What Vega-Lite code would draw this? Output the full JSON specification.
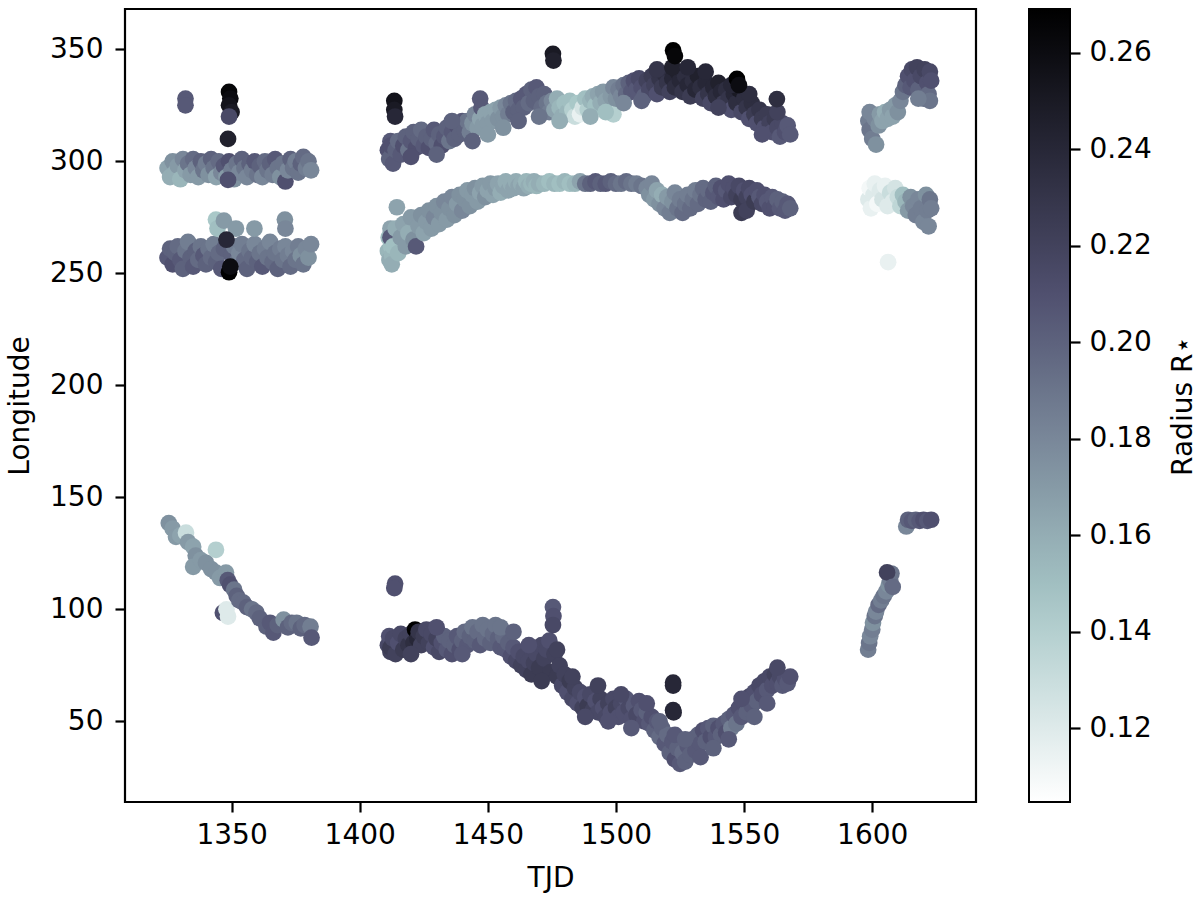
{
"$schema": "https://vega.github.io/schema/vega-lite/v6.json",
"width": 851, "height": 793,
"autosize": {"type": "none"},
"padding": {"left": 125, "top": 9, "right": 224, "bottom": 102},
"background": "white",
"config": {"font": "DejaVu Sans", "view": {"stroke": "black", "strokeWidth": 2.2},
 "axis": {"domain": false, "grid": false, "ticks": true, "tickColor": "black", "tickWidth": 2.2, "tickSize": 10, "labelFontSize": 28, "labelColor": "black", "labelPadding": 10, "titleFontSize": 28, "titleFontWeight": "normal", "titleColor": "black", "titlePadding": 11}},
"data": {"values": [
{"t":1325,"lon":297,"r":0.165},{"t":1326,"lon":293,"r":0.16},{"t":1327,"lon":300,"r":0.175},{"t":1328,"lon":295,"r":0.16},{"t":1329,"lon":298,"r":0.17},{"t":1330,"lon":292,"r":0.155},{"t":1331,"lon":301,"r":0.18},{"t":1332,"lon":296,"r":0.165},{"t":1333,"lon":299,"r":0.19},{"t":1334,"lon":294,"r":0.17},{"t":1335,"lon":301,"r":0.195},{"t":1336,"lon":297,"r":0.18},{"t":1337,"lon":293,"r":0.17},{"t":1338,"lon":300,"r":0.2},{"t":1339,"lon":296,"r":0.19},{"t":1340,"lon":299,"r":0.185},{"t":1341,"lon":294,"r":0.175},{"t":1342,"lon":301,"r":0.2},{"t":1343,"lon":297,"r":0.19},{"t":1344,"lon":293,"r":0.165},{"t":1345,"lon":300,"r":0.195},{"t":1346,"lon":295,"r":0.18},{"t":1347,"lon":298,"r":0.205},{"t":1348,"lon":293,"r":0.17},{"t":1349,"lon":300,"r":0.21},{"t":1350,"lon":296,"r":0.185},{"t":1351,"lon":292,"r":0.175},{"t":1352,"lon":299,"r":0.19},{"t":1353,"lon":295,"r":0.18},{"t":1354,"lon":301,"r":0.2},{"t":1355,"lon":297,"r":0.19},{"t":1356,"lon":293,"r":0.18},{"t":1357,"lon":299,"r":0.2},{"t":1358,"lon":296,"r":0.185},{"t":1359,"lon":300,"r":0.205},{"t":1360,"lon":294,"r":0.19},{"t":1361,"lon":298,"r":0.2},{"t":1362,"lon":293,"r":0.18},{"t":1363,"lon":300,"r":0.195},{"t":1364,"lon":296,"r":0.19},{"t":1365,"lon":299,"r":0.2},{"t":1366,"lon":294,"r":0.185},{"t":1367,"lon":301,"r":0.205},{"t":1368,"lon":297,"r":0.19},{"t":1369,"lon":293,"r":0.175},{"t":1370,"lon":299,"r":0.19},{"t":1371,"lon":291,"r":0.21},{"t":1372,"lon":296,"r":0.18},{"t":1373,"lon":301,"r":0.2},{"t":1374,"lon":297,"r":0.19},{"t":1375,"lon":300,"r":0.185},{"t":1376,"lon":295,"r":0.19},{"t":1377,"lon":299,"r":0.2},{"t":1378,"lon":302,"r":0.195},{"t":1379,"lon":297,"r":0.185},{"t":1380,"lon":300,"r":0.19},{"t":1381,"lon":296,"r":0.18},{"t":1348.6,"lon":291.7,"r":0.21},
{"t":1332,"lon":328,"r":0.205},{"t":1332,"lon":325,"r":0.205},{"t":1349,"lon":331,"r":0.265},{"t":1349.5,"lon":328,"r":0.26},{"t":1349,"lon":325,"r":0.255},{"t":1350,"lon":322,"r":0.25},{"t":1349,"lon":320,"r":0.215},{"t":1348.6,"lon":310,"r":0.245},
{"t":1325,"lon":257,"r":0.205},{"t":1326,"lon":261,"r":0.2},{"t":1327,"lon":254,"r":0.21},{"t":1328,"lon":259,"r":0.2},{"t":1329,"lon":262,"r":0.195},{"t":1330,"lon":256,"r":0.205},{"t":1331,"lon":252,"r":0.2},{"t":1332,"lon":260,"r":0.19},{"t":1333,"lon":264,"r":0.185},{"t":1334,"lon":257,"r":0.2},{"t":1335,"lon":253,"r":0.205},{"t":1336,"lon":260,"r":0.2},{"t":1337,"lon":256,"r":0.195},{"t":1338,"lon":262,"r":0.19},{"t":1339,"lon":258,"r":0.205},{"t":1340,"lon":254,"r":0.2},{"t":1341,"lon":261,"r":0.19},{"t":1342,"lon":257,"r":0.195},{"t":1343,"lon":263,"r":0.185},{"t":1344,"lon":255,"r":0.2},{"t":1345,"lon":259,"r":0.195},{"t":1346,"lon":252,"r":0.205},{"t":1347,"lon":261,"r":0.2},{"t":1350,"lon":258,"r":0.2},{"t":1351,"lon":262,"r":0.185},{"t":1352,"lon":255,"r":0.19},{"t":1353,"lon":259,"r":0.18},{"t":1354,"lon":263,"r":0.185},{"t":1355,"lon":256,"r":0.195},{"t":1356,"lon":252,"r":0.2},{"t":1357,"lon":260,"r":0.19},{"t":1358,"lon":257,"r":0.195},{"t":1359,"lon":263,"r":0.18},{"t":1360,"lon":255,"r":0.2},{"t":1361,"lon":259,"r":0.19},{"t":1362,"lon":253,"r":0.205},{"t":1363,"lon":261,"r":0.185},{"t":1364,"lon":257,"r":0.19},{"t":1365,"lon":264,"r":0.18},{"t":1366,"lon":255,"r":0.195},{"t":1367,"lon":259,"r":0.19},{"t":1368,"lon":252,"r":0.2},{"t":1369,"lon":261,"r":0.185},{"t":1370,"lon":256,"r":0.19},{"t":1371,"lon":262,"r":0.18},{"t":1372,"lon":258,"r":0.185},{"t":1373,"lon":253,"r":0.195},{"t":1374,"lon":260,"r":0.18},{"t":1375,"lon":256,"r":0.19},{"t":1376,"lon":262,"r":0.185},{"t":1377,"lon":258,"r":0.175},{"t":1378,"lon":254,"r":0.19},{"t":1379,"lon":261,"r":0.18},{"t":1380,"lon":257,"r":0.175},{"t":1381,"lon":263,"r":0.18},
{"t":1343.9,"lon":274,"r":0.145},{"t":1344.5,"lon":270,"r":0.15},{"t":1347,"lon":273.5,"r":0.17},{"t":1351.7,"lon":270,"r":0.17},{"t":1358.9,"lon":270,"r":0.17},{"t":1370.8,"lon":274,"r":0.175},{"t":1371,"lon":270,"r":0.18},
{"t":1348,"lon":265,"r":0.24},{"t":1349,"lon":250.5,"r":0.27},{"t":1349.5,"lon":253,"r":0.26},
{"t":1325.5,"lon":138.5,"r":0.175},{"t":1327,"lon":136,"r":0.17},{"t":1328.3,"lon":132.4,"r":0.17},{"t":1330,"lon":133,"r":0.165},{"t":1332.2,"lon":134.2,"r":0.13},{"t":1333,"lon":130,"r":0.17},{"t":1335,"lon":128,"r":0.165},{"t":1336,"lon":124,"r":0.175},{"t":1335,"lon":119,"r":0.17},{"t":1338,"lon":122,"r":0.17},{"t":1340,"lon":120.8,"r":0.175},{"t":1342,"lon":118,"r":0.175},{"t":1343.9,"lon":126.6,"r":0.14},{"t":1343.9,"lon":116.4,"r":0.175},{"t":1345.5,"lon":114,"r":0.17},{"t":1347.8,"lon":116.4,"r":0.17},{"t":1348.5,"lon":113,"r":0.205},{"t":1349.4,"lon":111,"r":0.21},{"t":1351,"lon":108.8,"r":0.19},{"t":1352,"lon":106,"r":0.2},{"t":1346.6,"lon":98.5,"r":0.21},{"t":1348.6,"lon":96.8,"r":0.12},{"t":1348,"lon":100,"r":0.12},{"t":1353,"lon":104,"r":0.195},{"t":1354.6,"lon":103,"r":0.195},{"t":1356,"lon":101,"r":0.2},{"t":1358,"lon":100,"r":0.19},{"t":1359.7,"lon":98.5,"r":0.195},{"t":1361,"lon":96,"r":0.2},{"t":1363.6,"lon":92.3,"r":0.2},{"t":1365,"lon":94,"r":0.205},{"t":1366.3,"lon":89.6,"r":0.205},{"t":1368,"lon":93,"r":0.2},{"t":1370.3,"lon":95.4,"r":0.175},{"t":1372,"lon":92,"r":0.2},{"t":1373.5,"lon":94,"r":0.195},{"t":1375.4,"lon":94,"r":0.19},{"t":1377,"lon":91.5,"r":0.2},{"t":1378.5,"lon":93,"r":0.195},{"t":1380.8,"lon":92.3,"r":0.185},{"t":1381.2,"lon":87.4,"r":0.205},
{"t":1411,"lon":305,"r":0.21},{"t":1411.5,"lon":301,"r":0.2},{"t":1412,"lon":309,"r":0.205},{"t":1412.5,"lon":303,"r":0.2},{"t":1412,"lon":307,"r":0.21},{"t":1413,"lon":299,"r":0.205},{"t":1414,"lon":305,"r":0.2},{"t":1415,"lon":309,"r":0.195},{"t":1416,"lon":303,"r":0.205},{"t":1417,"lon":307,"r":0.21},{"t":1418,"lon":311,"r":0.2},{"t":1419,"lon":305,"r":0.19},{"t":1420,"lon":309,"r":0.205},{"t":1421,"lon":313,"r":0.2},{"t":1422,"lon":306,"r":0.21},{"t":1423,"lon":310,"r":0.2},{"t":1424,"lon":314,"r":0.195},{"t":1425,"lon":307,"r":0.205},{"t":1426,"lon":311,"r":0.2},{"t":1427,"lon":306,"r":0.21},{"t":1428,"lon":310,"r":0.2},{"t":1429,"lon":314,"r":0.205},{"t":1430,"lon":308,"r":0.195},{"t":1431,"lon":312,"r":0.2},{"t":1432,"lon":307,"r":0.21},{"t":1433,"lon":311,"r":0.205},{"t":1434,"lon":315,"r":0.2},{"t":1435,"lon":309,"r":0.19},{"t":1436,"lon":313,"r":0.205},{"t":1437,"lon":310,"r":0.2},{"t":1438,"lon":316,"r":0.21},{"t":1439,"lon":312,"r":0.2},{"t":1440,"lon":318,"r":0.205},{"t":1441,"lon":314,"r":0.2},{"t":1442,"lon":318,"r":0.19},{"t":1443,"lon":313,"r":0.185},{"t":1444,"lon":317,"r":0.175},{"t":1445,"lon":321,"r":0.18},{"t":1446,"lon":315,"r":0.17},{"t":1447,"lon":319,"r":0.165},{"t":1447,"lon":328,"r":0.205},{"t":1447.5,"lon":324,"r":0.205},{"t":1448,"lon":316,"r":0.17},{"t":1449,"lon":321,"r":0.165},{"t":1450,"lon":317,"r":0.17},{"t":1451,"lon":322,"r":0.165},{"t":1452,"lon":318,"r":0.17},{"t":1453,"lon":323,"r":0.165},{"t":1454,"lon":319,"r":0.175},{"t":1455,"lon":324,"r":0.17},{"t":1456,"lon":320,"r":0.175},{"t":1457,"lon":325,"r":0.18},{"t":1458,"lon":321,"r":0.185},{"t":1459,"lon":326,"r":0.19},{"t":1460,"lon":322,"r":0.2},{"t":1461,"lon":327,"r":0.195},{"t":1462,"lon":323,"r":0.2},{"t":1463,"lon":328,"r":0.205},{"t":1464,"lon":324,"r":0.2},{"t":1465,"lon":330,"r":0.205},{"t":1466,"lon":326,"r":0.195},{"t":1467,"lon":332,"r":0.2},{"t":1468,"lon":327,"r":0.2},{"t":1469,"lon":333,"r":0.205},{"t":1470,"lon":329,"r":0.2},{"t":1471,"lon":324,"r":0.195},{"t":1472,"lon":330,"r":0.2},{"t":1473,"lon":326,"r":0.19},{"t":1474,"lon":322,"r":0.185},{"t":1475,"lon":327,"r":0.18},{"t":1476,"lon":323,"r":0.165},{"t":1477,"lon":328,"r":0.16},{"t":1478,"lon":324,"r":0.155},{"t":1479,"lon":320,"r":0.16},{"t":1480,"lon":326,"r":0.15},{"t":1481,"lon":322,"r":0.155},{"t":1482,"lon":327,"r":0.15},{"t":1483,"lon":323,"r":0.14},{"t":1484,"lon":320,"r":0.13},{"t":1485,"lon":326,"r":0.145},{"t":1486,"lon":321,"r":0.115},{"t":1487,"lon":324,"r":0.125},{"t":1488,"lon":328,"r":0.15},{"t":1489,"lon":323,"r":0.14},{"t":1490,"lon":327,"r":0.155},{"t":1491,"lon":329,"r":0.16},{"t":1492,"lon":325,"r":0.15},{"t":1493,"lon":330,"r":0.165},{"t":1494,"lon":326,"r":0.16},{"t":1495,"lon":331,"r":0.17},{"t":1496,"lon":327,"r":0.165},{"t":1499,"lon":321,"r":0.14},{"t":1498,"lon":329,"r":0.17},{"t":1499,"lon":333,"r":0.18},{"t":1500,"lon":328,"r":0.175},{"t":1501,"lon":332,"r":0.185},{"t":1502,"lon":329,"r":0.18},{"t":1503,"lon":334,"r":0.19},{"t":1504,"lon":330,"r":0.195},{"t":1505,"lon":335,"r":0.2},{"t":1506,"lon":331,"r":0.205},{"t":1507,"lon":336,"r":0.21},{"t":1508,"lon":332,"r":0.205},{"t":1509,"lon":337,"r":0.215},{"t":1510,"lon":333,"r":0.21},{"t":1511,"lon":329,"r":0.2},{"t":1512,"lon":336,"r":0.22},{"t":1513,"lon":332,"r":0.215},{"t":1514,"lon":338,"r":0.225},{"t":1515,"lon":334,"r":0.22},{"t":1516,"lon":330,"r":0.21},{"t":1517,"lon":337,"r":0.23},{"t":1518,"lon":333,"r":0.225},{"t":1519,"lon":339,"r":0.235},{"t":1520,"lon":335,"r":0.23},{"t":1521,"lon":331,"r":0.22},{"t":1522,"lon":337,"r":0.24},{"t":1523,"lon":333,"r":0.235},{"t":1524,"lon":340,"r":0.245},{"t":1525,"lon":336,"r":0.24},{"t":1526,"lon":331,"r":0.23},{"t":1527,"lon":338,"r":0.235},{"t":1528,"lon":334,"r":0.24},{"t":1529,"lon":329,"r":0.225},{"t":1530,"lon":336,"r":0.235},{"t":1531,"lon":332,"r":0.24},{"t":1532,"lon":338,"r":0.245},{"t":1533,"lon":333,"r":0.235},{"t":1534,"lon":328,"r":0.22},{"t":1535,"lon":335,"r":0.24},{"t":1536,"lon":330,"r":0.23},{"t":1537,"lon":326,"r":0.215},{"t":1538,"lon":333,"r":0.24},{"t":1539,"lon":329,"r":0.235},{"t":1540,"lon":335,"r":0.245},{"t":1541,"lon":331,"r":0.24},{"t":1542,"lon":326,"r":0.225},{"t":1543,"lon":332,"r":0.235},{"t":1544,"lon":328,"r":0.23},{"t":1545,"lon":323,"r":0.21},{"t":1546,"lon":330,"r":0.24},{"t":1547,"lon":326,"r":0.235},{"t":1548,"lon":332,"r":0.25},{"t":1549,"lon":322,"r":0.215},{"t":1550,"lon":328,"r":0.235},{"t":1551,"lon":324,"r":0.23},{"t":1552,"lon":319,"r":0.21},{"t":1553,"lon":326,"r":0.235},{"t":1554,"lon":321,"r":0.225},{"t":1555,"lon":317,"r":0.21},{"t":1556,"lon":323,"r":0.23},{"t":1557,"lon":319,"r":0.225},{"t":1558,"lon":315,"r":0.21},{"t":1559,"lon":321,"r":0.225},{"t":1560,"lon":317,"r":0.22},{"t":1561,"lon":313,"r":0.21},{"t":1562,"lon":319,"r":0.225},{"t":1563,"lon":315,"r":0.215},{"t":1564,"lon":311,"r":0.205},{"t":1565,"lon":317,"r":0.215},{"t":1566,"lon":313,"r":0.21},{"t":1567,"lon":316,"r":0.205},{"t":1568,"lon":312,"r":0.205},
{"t":1420,"lon":302,"r":0.21},{"t":1430,"lon":303,"r":0.2},{"t":1436,"lon":318,"r":0.2},{"t":1444,"lon":309,"r":0.2},{"t":1450,"lon":312,"r":0.17},{"t":1456,"lon":315,"r":0.175},{"t":1462,"lon":318,"r":0.2},{"t":1470,"lon":320,"r":0.19},{"t":1478,"lon":318,"r":0.16},{"t":1490,"lon":320,"r":0.16},{"t":1496,"lon":322,"r":0.15},{"t":1503,"lon":326,"r":0.18},{"t":1510,"lon":327,"r":0.2},{"t":1516,"lon":341,"r":0.23},{"t":1522,"lon":342,"r":0.245},{"t":1528,"lon":342,"r":0.24},{"t":1535,"lon":340,"r":0.24},{"t":1540,"lon":324,"r":0.22},{"t":1545,"lon":334,"r":0.24},{"t":1552,"lon":330,"r":0.235},{"t":1557,"lon":312,"r":0.21},{"t":1563,"lon":322,"r":0.22},
{"t":1413.5,"lon":327,"r":0.255},{"t":1413.5,"lon":323,"r":0.25},{"t":1413.8,"lon":320,"r":0.24},{"t":1475.4,"lon":348,"r":0.25},{"t":1475.6,"lon":345,"r":0.245},{"t":1522.3,"lon":349.5,"r":0.27},{"t":1523,"lon":347,"r":0.265},{"t":1547.2,"lon":336.8,"r":0.27},{"t":1548,"lon":334,"r":0.26},{"t":1562.8,"lon":327.8,"r":0.235},
{"t":1411,"lon":260,"r":0.155},{"t":1411.3,"lon":266,"r":0.15},{"t":1411.6,"lon":256,"r":0.16},{"t":1412,"lon":270,"r":0.165},{"t":1412.3,"lon":262,"r":0.15},{"t":1412.6,"lon":258,"r":0.155},{"t":1412,"lon":266,"r":0.205},{"t":1412.5,"lon":254,"r":0.16},{"t":1413,"lon":262,"r":0.15},{"t":1414,"lon":270,"r":0.16},{"t":1414.5,"lon":279.5,"r":0.165},{"t":1415,"lon":259,"r":0.155},{"t":1416,"lon":266,"r":0.17},{"t":1417,"lon":272,"r":0.165},{"t":1418,"lon":262,"r":0.17},{"t":1419,"lon":268,"r":0.16},{"t":1420,"lon":275,"r":0.17},{"t":1421,"lon":265,"r":0.175},{"t":1422,"lon":262,"r":0.205},{"t":1423,"lon":271,"r":0.17},{"t":1424,"lon":276,"r":0.175},{"t":1425,"lon":268,"r":0.165},{"t":1426,"lon":273,"r":0.17},{"t":1427,"lon":278,"r":0.175},{"t":1428,"lon":270,"r":0.17},{"t":1429,"lon":275,"r":0.18},{"t":1430,"lon":280,"r":0.175},{"t":1431,"lon":272,"r":0.17},{"t":1432,"lon":277,"r":0.175},{"t":1433,"lon":282,"r":0.18},{"t":1434,"lon":274,"r":0.17},{"t":1435,"lon":279,"r":0.175},{"t":1436,"lon":284,"r":0.18},{"t":1437,"lon":276,"r":0.175},{"t":1438,"lon":281,"r":0.17},{"t":1439,"lon":285,"r":0.175},{"t":1440,"lon":278,"r":0.18},{"t":1441,"lon":283,"r":0.175},{"t":1442,"lon":287,"r":0.17},{"t":1443,"lon":280,"r":0.175},{"t":1444,"lon":285,"r":0.17},{"t":1445,"lon":288,"r":0.175},{"t":1446,"lon":282,"r":0.17},{"t":1447,"lon":286,"r":0.165},{"t":1448,"lon":289,"r":0.17},{"t":1449,"lon":284,"r":0.175},{"t":1450,"lon":287,"r":0.165},{"t":1451,"lon":290,"r":0.17},{"t":1452,"lon":285,"r":0.165},{"t":1453,"lon":288,"r":0.17},{"t":1454,"lon":290,"r":0.165},{"t":1455,"lon":286,"r":0.16},{"t":1456,"lon":289,"r":0.165},{"t":1457,"lon":291,"r":0.16},{"t":1458,"lon":287,"r":0.165},{"t":1459,"lon":290,"r":0.16},{"t":1460,"lon":288,"r":0.165},{"t":1461,"lon":291,"r":0.16},{"t":1462,"lon":289,"r":0.165},{"t":1463,"lon":290,"r":0.16},{"t":1464,"lon":288,"r":0.165},{"t":1465,"lon":291,"r":0.155},{"t":1466,"lon":289,"r":0.16},{"t":1467,"lon":290,"r":0.155},{"t":1468,"lon":291,"r":0.16},{"t":1469,"lon":289,"r":0.155},{"t":1470,"lon":290,"r":0.16},{"t":1472,"lon":290,"r":0.155},{"t":1474,"lon":291,"r":0.15},{"t":1476,"lon":290,"r":0.155},{"t":1478,"lon":290,"r":0.15},{"t":1480,"lon":291,"r":0.155},{"t":1482,"lon":290,"r":0.15},{"t":1484,"lon":290,"r":0.155},{"t":1486,"lon":291,"r":0.165},{"t":1488,"lon":290,"r":0.19},{"t":1490,"lon":290,"r":0.2},{"t":1492,"lon":291,"r":0.205},{"t":1494,"lon":290,"r":0.2},{"t":1496,"lon":290,"r":0.205},{"t":1498,"lon":291,"r":0.2},{"t":1500,"lon":290,"r":0.195},{"t":1502,"lon":290,"r":0.19},{"t":1504,"lon":291,"r":0.195},{"t":1506,"lon":290,"r":0.19},{"t":1508,"lon":290,"r":0.185},{"t":1510,"lon":289,"r":0.19},{"t":1512,"lon":288,"r":0.18},{"t":1513,"lon":285,"r":0.175},{"t":1514,"lon":290,"r":0.18},{"t":1515,"lon":283,"r":0.17},{"t":1516,"lon":287,"r":0.165},{"t":1517,"lon":281,"r":0.175},{"t":1518,"lon":285,"r":0.16},{"t":1519,"lon":279,"r":0.18},{"t":1520,"lon":284,"r":0.17},{"t":1521,"lon":277,"r":0.185},{"t":1522,"lon":282,"r":0.175},{"t":1523,"lon":286,"r":0.18},{"t":1524,"lon":279,"r":0.19},{"t":1525,"lon":283,"r":0.185},{"t":1526,"lon":277,"r":0.195},{"t":1527,"lon":281,"r":0.19},{"t":1528,"lon":285,"r":0.185},{"t":1529,"lon":279,"r":0.195},{"t":1530,"lon":283,"r":0.19},{"t":1531,"lon":287,"r":0.185},{"t":1532,"lon":281,"r":0.195},{"t":1533,"lon":285,"r":0.19},{"t":1534,"lon":288,"r":0.195},{"t":1535,"lon":283,"r":0.2},{"t":1536,"lon":287,"r":0.195},{"t":1537,"lon":282,"r":0.2},{"t":1538,"lon":286,"r":0.205},{"t":1539,"lon":289,"r":0.2},{"t":1540,"lon":284,"r":0.205},{"t":1541,"lon":288,"r":0.21},{"t":1542,"lon":283,"r":0.21},{"t":1543,"lon":287,"r":0.205},{"t":1544,"lon":290,"r":0.21},{"t":1545,"lon":284,"r":0.215},{"t":1546,"lon":288,"r":0.21},{"t":1547,"lon":285,"r":0.22},{"t":1548,"lon":289,"r":0.215},{"t":1549,"lon":283,"r":0.225},{"t":1549,"lon":277,"r":0.225},{"t":1550,"lon":287,"r":0.21},{"t":1551,"lon":284,"r":0.22},{"t":1551,"lon":278,"r":0.22},{"t":1552,"lon":288,"r":0.215},{"t":1553,"lon":285,"r":0.21},{"t":1554,"lon":282,"r":0.225},{"t":1555,"lon":287,"r":0.21},{"t":1556,"lon":284,"r":0.205},{"t":1557,"lon":281,"r":0.215},{"t":1558,"lon":285,"r":0.21},{"t":1559,"lon":282,"r":0.205},{"t":1560,"lon":279,"r":0.21},{"t":1561,"lon":284,"r":0.205},{"t":1562,"lon":280,"r":0.21},{"t":1563,"lon":283,"r":0.2},{"t":1564,"lon":279,"r":0.205},{"t":1565,"lon":282,"r":0.2},{"t":1566,"lon":278,"r":0.205},{"t":1567,"lon":281,"r":0.205},{"t":1568,"lon":279,"r":0.2},
{"t":1411,"lon":84,"r":0.215},{"t":1411.5,"lon":88,"r":0.21},{"t":1412,"lon":81,"r":0.22},{"t":1412.3,"lon":86,"r":0.21},{"t":1412,"lon":83,"r":0.225},{"t":1413,"lon":87,"r":0.215},{"t":1414,"lon":80,"r":0.22},{"t":1415,"lon":85,"r":0.21},{"t":1416,"lon":89,"r":0.215},{"t":1417,"lon":82,"r":0.225},{"t":1418,"lon":87,"r":0.22},{"t":1419,"lon":84,"r":0.23},{"t":1420,"lon":89,"r":0.22},{"t":1421,"lon":85,"r":0.235},{"t":1421.6,"lon":91,"r":0.27},{"t":1422.5,"lon":87,"r":0.24},{"t":1423,"lon":90,"r":0.23},{"t":1424,"lon":84,"r":0.22},{"t":1425,"lon":88,"r":0.225},{"t":1426,"lon":91,"r":0.215},{"t":1427,"lon":85,"r":0.22},{"t":1428,"lon":89,"r":0.215},{"t":1429,"lon":83,"r":0.21},{"t":1430,"lon":87,"r":0.22},{"t":1431,"lon":81,"r":0.215},{"t":1432,"lon":85,"r":0.21},{"t":1433,"lon":88,"r":0.2},{"t":1434,"lon":82,"r":0.205},{"t":1435,"lon":86,"r":0.2},{"t":1436,"lon":80,"r":0.21},{"t":1437,"lon":84,"r":0.2},{"t":1438,"lon":88,"r":0.205},{"t":1439,"lon":82,"r":0.21},{"t":1440,"lon":86,"r":0.2},{"t":1441,"lon":90,"r":0.195},{"t":1442,"lon":84,"r":0.205},{"t":1443,"lon":88,"r":0.2},{"t":1444,"lon":92,"r":0.19},{"t":1445,"lon":86,"r":0.2},{"t":1446,"lon":90,"r":0.195},{"t":1447,"lon":84,"r":0.205},{"t":1448,"lon":93,"r":0.19},{"t":1449,"lon":87,"r":0.195},{"t":1450,"lon":91,"r":0.19},{"t":1451,"lon":85,"r":0.2},{"t":1452,"lon":89,"r":0.195},{"t":1453,"lon":93,"r":0.19},{"t":1454,"lon":87,"r":0.2},{"t":1455,"lon":83,"r":0.205},{"t":1456,"lon":88,"r":0.195},{"t":1457,"lon":82,"r":0.205},{"t":1458,"lon":85,"r":0.2},{"t":1459,"lon":79,"r":0.21},{"t":1460,"lon":83,"r":0.205},{"t":1461,"lon":77,"r":0.215},{"t":1462,"lon":81,"r":0.21},{"t":1463,"lon":75,"r":0.22},{"t":1464,"lon":79,"r":0.215},{"t":1465,"lon":73,"r":0.22},{"t":1466,"lon":77,"r":0.215},{"t":1467,"lon":71,"r":0.225},{"t":1468,"lon":76,"r":0.22},{"t":1469,"lon":80,"r":0.215},{"t":1470,"lon":74,"r":0.225},{"t":1471,"lon":84,"r":0.215},{"t":1472,"lon":78,"r":0.22},{"t":1473,"lon":82,"r":0.215},{"t":1474,"lon":86,"r":0.21},{"t":1474.5,"lon":72,"r":0.225},{"t":1475.4,"lon":101,"r":0.205},{"t":1475.6,"lon":97,"r":0.21},{"t":1475.4,"lon":93,"r":0.215},{"t":1476,"lon":80,"r":0.22},{"t":1477,"lon":70,"r":0.225},{"t":1478,"lon":75,"r":0.22},{"t":1479,"lon":66,"r":0.215},{"t":1480,"lon":71,"r":0.22},{"t":1481,"lon":63,"r":0.21},{"t":1482,"lon":68,"r":0.225},{"t":1483,"lon":60,"r":0.215},{"t":1484,"lon":65,"r":0.22},{"t":1485,"lon":58,"r":0.21},{"t":1486,"lon":63,"r":0.215},{"t":1487,"lon":56,"r":0.22},{"t":1488,"lon":61,"r":0.21},{"t":1489,"lon":57,"r":0.225},{"t":1490,"lon":62,"r":0.215},{"t":1491,"lon":55,"r":0.22},{"t":1492,"lon":59,"r":0.21},{"t":1493,"lon":54,"r":0.215},{"t":1494,"lon":60,"r":0.22},{"t":1495,"lon":56,"r":0.21},{"t":1496,"lon":52,"r":0.215},{"t":1497,"lon":58,"r":0.22},{"t":1498,"lon":54,"r":0.21},{"t":1499,"lon":60,"r":0.215},{"t":1500,"lon":56,"r":0.22},{"t":1501,"lon":52,"r":0.21},{"t":1502,"lon":58,"r":0.215},{"t":1503,"lon":54,"r":0.21},{"t":1504,"lon":60,"r":0.205},{"t":1505,"lon":56,"r":0.215},{"t":1506,"lon":51,"r":0.21},{"t":1507,"lon":57,"r":0.205},{"t":1508,"lon":53,"r":0.215},{"t":1509,"lon":59,"r":0.21},{"t":1510,"lon":55,"r":0.205},{"t":1511,"lon":50,"r":0.21},{"t":1512,"lon":54,"r":0.2},{"t":1513,"lon":49,"r":0.205},{"t":1514,"lon":52,"r":0.21},{"t":1515,"lon":46,"r":0.2},{"t":1516,"lon":50,"r":0.205},{"t":1517,"lon":43,"r":0.195},{"t":1518,"lon":47,"r":0.2},{"t":1519,"lon":40,"r":0.205},{"t":1520,"lon":44,"r":0.195},{"t":1521,"lon":36,"r":0.2},{"t":1522,"lon":41,"r":0.205},{"t":1523,"lon":33,"r":0.21},{"t":1524,"lon":38,"r":0.2},{"t":1525,"lon":31,"r":0.205},{"t":1526,"lon":36,"r":0.195},{"t":1527,"lon":32,"r":0.2},{"t":1528,"lon":39,"r":0.205},{"t":1529,"lon":35,"r":0.2},{"t":1530,"lon":42,"r":0.21},{"t":1531,"lon":37,"r":0.205},{"t":1532,"lon":44,"r":0.2},{"t":1533,"lon":40,"r":0.205},{"t":1534,"lon":46,"r":0.21},{"t":1535,"lon":41,"r":0.2},{"t":1536,"lon":47,"r":0.205},{"t":1537,"lon":43,"r":0.21},{"t":1538,"lon":48,"r":0.2},{"t":1539,"lon":43,"r":0.205},{"t":1540,"lon":47,"r":0.21},{"t":1541,"lon":44,"r":0.2},{"t":1542,"lon":49,"r":0.205},{"t":1543,"lon":45,"r":0.21},{"t":1544,"lon":51,"r":0.2},{"t":1545,"lon":47,"r":0.185},{"t":1546,"lon":53,"r":0.205},{"t":1547,"lon":49,"r":0.19},{"t":1548,"lon":56,"r":0.21},{"t":1549,"lon":52,"r":0.205},{"t":1550,"lon":58,"r":0.21},{"t":1551,"lon":54,"r":0.2},{"t":1552,"lon":61,"r":0.215},{"t":1553,"lon":57,"r":0.205},{"t":1554,"lon":63,"r":0.21},{"t":1555,"lon":59,"r":0.2},{"t":1556,"lon":66,"r":0.215},{"t":1557,"lon":62,"r":0.21},{"t":1558,"lon":68,"r":0.215},{"t":1559,"lon":64,"r":0.205},{"t":1560,"lon":70,"r":0.215},{"t":1561,"lon":66,"r":0.21},{"t":1562,"lon":71,"r":0.22},{"t":1563,"lon":67,"r":0.21},{"t":1564,"lon":70,"r":0.215},{"t":1565,"lon":66,"r":0.205},{"t":1566,"lon":69,"r":0.21},{"t":1567,"lon":67,"r":0.205},{"t":1568,"lon":70,"r":0.21},
{"t":1420,"lon":80,"r":0.22},{"t":1430,"lon":92,"r":0.21},{"t":1440,"lon":80,"r":0.205},{"t":1455,"lon":92,"r":0.19},{"t":1460,"lon":90,"r":0.2},{"t":1466,"lon":84,"r":0.21},{"t":1471,"lon":68,"r":0.225},{"t":1477,"lon":82,"r":0.22},{"t":1483,"lon":70,"r":0.22},{"t":1488,"lon":52,"r":0.215},{"t":1493,"lon":66,"r":0.22},{"t":1497,"lon":50,"r":0.21},{"t":1502,"lon":62,"r":0.215},{"t":1506,"lon":47,"r":0.205},{"t":1512,"lon":58,"r":0.21},{"t":1517,"lon":50,"r":0.2},{"t":1523,"lon":44,"r":0.205},{"t":1527,"lon":42,"r":0.2},{"t":1533,"lon":34,"r":0.205},{"t":1538,"lon":38,"r":0.2},{"t":1544,"lon":42,"r":0.205},{"t":1549,"lon":60,"r":0.21},{"t":1554,"lon":52,"r":0.2},{"t":1559,"lon":58,"r":0.205},{"t":1563,"lon":74,"r":0.215},
{"t":1413.8,"lon":111.5,"r":0.21},{"t":1413.5,"lon":109.5,"r":0.21},{"t":1522.3,"lon":67.3,"r":0.24},{"t":1522.3,"lon":66,"r":0.24},{"t":1522.3,"lon":55,"r":0.24},{"t":1522.5,"lon":54,"r":0.24},
{"t":1598.5,"lon":318,"r":0.185},{"t":1599,"lon":322,"r":0.18},{"t":1599,"lon":314,"r":0.19},{"t":1600,"lon":310,"r":0.185},{"t":1601.5,"lon":307.5,"r":0.175},{"t":1601,"lon":319,"r":0.18},{"t":1602.5,"lon":316,"r":0.175},{"t":1603,"lon":321,"r":0.17},{"t":1604,"lon":318,"r":0.165},{"t":1605,"lon":322,"r":0.16},{"t":1606,"lon":319,"r":0.165},{"t":1607,"lon":323,"r":0.17},{"t":1608,"lon":320,"r":0.165},{"t":1609,"lon":325,"r":0.17},{"t":1610,"lon":322,"r":0.175},{"t":1611,"lon":327,"r":0.18},{"t":1612,"lon":331,"r":0.19},{"t":1613,"lon":334,"r":0.2},{"t":1614,"lon":338,"r":0.21},{"t":1615,"lon":333,"r":0.205},{"t":1615.5,"lon":341,"r":0.215},{"t":1616.5,"lon":336,"r":0.21},{"t":1617.5,"lon":342,"r":0.22},{"t":1618,"lon":332,"r":0.2},{"t":1619,"lon":338,"r":0.215},{"t":1620,"lon":328,"r":0.19},{"t":1620.5,"lon":341,"r":0.22},{"t":1621.5,"lon":335,"r":0.21},{"t":1622,"lon":330,"r":0.195},{"t":1622.5,"lon":340,"r":0.215},{"t":1623,"lon":336,"r":0.21},{"t":1622.5,"lon":327,"r":0.19},{"t":1618,"lon":328,"r":0.185},
{"t":1598.5,"lon":283,"r":0.12},{"t":1599,"lon":288,"r":0.11},{"t":1599.5,"lon":279,"r":0.115},{"t":1600.5,"lon":285,"r":0.12},{"t":1601,"lon":290,"r":0.115},{"t":1602,"lon":281,"r":0.11},{"t":1603,"lon":287,"r":0.12},{"t":1604,"lon":283,"r":0.125},{"t":1605,"lon":289,"r":0.115},{"t":1606,"lon":280,"r":0.12},{"t":1607,"lon":286,"r":0.13},{"t":1608,"lon":282,"r":0.12},{"t":1609,"lon":288,"r":0.125},{"t":1610,"lon":284,"r":0.13},{"t":1611,"lon":280,"r":0.135},{"t":1612,"lon":285,"r":0.15},{"t":1613,"lon":282,"r":0.155},{"t":1614,"lon":278,"r":0.17},{"t":1615,"lon":284,"r":0.175},{"t":1616,"lon":280,"r":0.18},{"t":1617,"lon":276,"r":0.185},{"t":1618,"lon":283,"r":0.18},{"t":1619,"lon":279,"r":0.185},{"t":1620,"lon":273,"r":0.18},{"t":1621,"lon":285,"r":0.175},{"t":1621.5,"lon":278,"r":0.185},{"t":1622,"lon":271,"r":0.18},{"t":1622.5,"lon":283,"r":0.19},{"t":1623,"lon":279,"r":0.185},{"t":1606.2,"lon":255,"r":0.115},
{"t":1598.4,"lon":82,"r":0.185},{"t":1598.8,"lon":85,"r":0.19},{"t":1599.2,"lon":88,"r":0.18},{"t":1600,"lon":91,"r":0.185},{"t":1600.3,"lon":94,"r":0.175},{"t":1601,"lon":97,"r":0.19},{"t":1601.5,"lon":99,"r":0.18},{"t":1602.5,"lon":102,"r":0.195},{"t":1603.5,"lon":104,"r":0.185},{"t":1604.5,"lon":106,"r":0.19},{"t":1605.5,"lon":108,"r":0.18},{"t":1606.5,"lon":111,"r":0.175},{"t":1607,"lon":113,"r":0.185},{"t":1607.5,"lon":116,"r":0.19},{"t":1605.8,"lon":116.5,"r":0.22},{"t":1608,"lon":110,"r":0.195},
{"t":1613.3,"lon":137,"r":0.18},{"t":1614,"lon":140,"r":0.2},{"t":1615.5,"lon":139.5,"r":0.205},{"t":1617,"lon":140,"r":0.2},{"t":1618.5,"lon":139.5,"r":0.205},{"t":1620,"lon":140,"r":0.21},{"t":1621.5,"lon":139.5,"r":0.205},{"t":1623,"lon":140,"r":0.21}
]},
"layer": [
 {"mark": {"type": "circle", "size": 280, "opacity": 1, "strokeWidth": 0},
  "encoding": {
   "x": {"field": "t", "type": "quantitative", "title": "TJD", "scale": {"domain": [1308.4, 1640.5], "nice": false, "zero": false}, "axis": {"values": [1350, 1400, 1450, 1500, 1550, 1600], "format": "d", "labelPadding": 9, "titlePadding": 15}},
   "y": {"field": "lon", "type": "quantitative", "title": "Longitude", "scale": {"domain": [14, 368], "nice": false, "zero": false}, "axis": {"orient": "left", "values": [50, 100, 150, 200, 250, 300, 350], "format": "d", "labelPadding": 12, "titlePadding": 15}},
   "color": {"field": "r", "type": "quantitative",
    "scale": {"domain": [0.1047, 0.1465, 0.2091, 0.2691], "range": ["#ffffff", "#a6c6c6", "#515171", "#000000"], "interpolate": "rgb", "nice": false, "zero": false, "clamp": true},
    "legend": {"orient": "none", "legendX": 904, "legendY": 0, "padding": 0, "direction": "vertical", "gradientLength": 793, "gradientThickness": 41, "gradientStrokeColor": "black", "gradientStrokeWidth": 2, "values": [0.12, 0.26], "labelOpacity": 0, "labelExpr": "''", "title": null}}
  }},
 {"mark": {"type": "point", "opacity": 0},
  "encoding": {
   "x": {"field": "t", "type": "quantitative"},
   "y": {"field": "r", "type": "quantitative", "title": "Radius R⋆", "scale": {"domain": [0.1047, 0.2691], "nice": false, "zero": false},
    "axis": {"orient": "right", "offset": 94, "values": [0.12, 0.14, 0.16, 0.18, 0.2, 0.22, 0.24, 0.26], "format": ".2f", "labelPadding": 9, "titlePadding": 18, "titleAngle": 270, "titleBaseline": "top"}}
  }}
],
"resolve": {"scale": {"y": "independent"}, "axis": {"y": "independent"}}
}
